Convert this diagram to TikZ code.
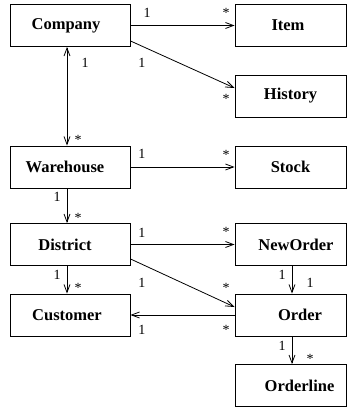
\documentclass[tikz,border=0pt]{standalone}
\usepackage{fontspec}
\setmainfont{Liberation Serif}
\usetikzlibrary{arrows.meta,calc}
\begin{document}
\begin{tikzpicture}[x=1pt,y=-1pt,
  cls/.style={draw,line width=0.9pt,minimum width=120pt,minimum height=42pt,inner sep=0pt,
    font=\fontsize{16.5}{18}\selectfont\bfseries},
  rcls/.style={cls,minimum width=111pt},
  lab/.style={inner sep=0pt,font=\fontsize{14}{16}\selectfont},
  assoc/.style={line width=0.8pt,-{Straight Barb[length=8pt,width=6pt,line width=0.8pt]}},
  both/.style={line width=0.8pt,{Straight Barb[length=8pt,width=6pt,line width=0.8pt]}-{Straight Barb[length=8pt,width=6pt,line width=0.8pt]}}]
\useasboundingbox (0,0) rectangle (347,408);
% classes
\node[cls] (company)   at (70,25.5)  {Company\hspace*{8pt}};
\node[cls] (warehouse) at (70,167)   {Warehouse\hspace*{10pt}};
\node[cls] (district)  at (70,244.5) {District\hspace*{10pt}};
\node[cls] (customer)  at (70,315)   {Customer\hspace*{6pt}};
\node[rcls] (item)      at (290.5,25.5) {Item\hspace*{5pt}};
\node[rcls] (history)   at (290.5,96)   {History};
\node[rcls] (stock)     at (290.5,167)  {Stock};
\node[rcls] (neworder)  at (290.5,244.5){\hspace*{11pt}NewOrder};
\node[rcls] (order)     at (290.5,315)  {\hspace*{19pt}Order};
\node[rcls] (orderline) at (290.5,385.5){\hspace*{18pt}Orderline};
% associations
\draw[assoc] (company.east) -- (item.west);
\draw[assoc] ($(company.south east)+(0,-6)$) -- ($(history.west)+(0,-8)$);
\draw[both] ($(company.south)+(-3,0)$) -- ($(warehouse.north)+(-3,0)$);
\draw[assoc] (warehouse.east) -- (stock.west);
\draw[assoc] ($(warehouse.south)+(-3,0)$) -- ($(district.north)+(-3,0)$);
\draw[assoc] (district.east) -- (neworder.west);
\draw[assoc] ($(district.south east)+(0,-7)$) -- ($(order.west)+(0,-8)$);
\draw[assoc] (order.west) -- (customer.east);
\draw[assoc] ($(district.south)+(-3,0)$) -- ($(customer.north)+(-3,0)$);
\draw[assoc] ($(neworder.south)+(1.5,0)$) -- ($(order.north)+(1.5,0)$);
\draw[assoc] ($(order.south)+(1.5,0)$) -- ($(orderline.north)+(1.5,0)$);
% multiplicities
\node[lab] (m1a) at (147,13) {1};   \node[lab] (m1b) at (226,13) {*};
\node[lab] (m2a) at (142,63) {1};   \node[lab] (m2b) at (226,99) {*};
\node[lab] (m3a) at (85,63)  {1};   \node[lab] (m3b) at (78,140) {*};
\node[lab] (m4a) at (142,154) {1};  \node[lab] (m4b) at (226,155) {*};
\node[lab] (m5a) at (57,197) {1};   \node[lab] (m5b) at (78,218) {*};
\node[lab] (m6a) at (142,233) {1};  \node[lab] (m6b) at (226,232) {*};
\node[lab] (m7a) at (142,283) {1};  \node[lab] (m7b) at (226,288) {*};
\node[lab] (m8a) at (142,330) {1};  \node[lab] (m8b) at (226,330) {*};
\node[lab] (m9a) at (57,275) {1};   \node[lab] (m9b) at (78,288) {*};
\node[lab] (m10a) at (282,275) {1}; \node[lab] (m10b) at (310,283) {1};
\node[lab] (m11a) at (282,346) {1}; \node[lab] (m11b) at (310,359) {*};
\end{tikzpicture}
\end{document}
